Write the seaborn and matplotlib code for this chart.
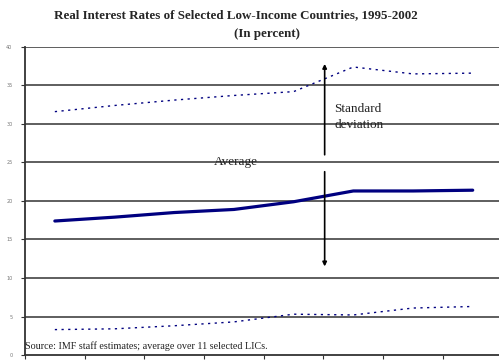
import matplotlib
matplotlib.use("Agg")
import matplotlib.pyplot as plt
import seaborn as sns
import numpy as np
import pandas as pd

years = ["1995", "1996", "1997", "1998", "1999", "2000", "2001", "2002"]
average = [17.4, 17.9, 18.5, 18.9, 19.9, 21.3, 21.3, 21.4]
upper_band = [31.6, 32.4, 33.1, 33.7, 34.2, 37.4, 36.5, 36.6]
lower_band = [3.3, 3.4, 3.8, 4.3, 5.3, 5.2, 6.1, 6.3]
y_ticks = [0, 5, 10, 15, 20, 25, 30, 35, 40]

sns.set_theme(style="white")
plt.rcParams["font.family"] = ["Liberation Serif", "DejaVu Serif"]

df = pd.DataFrame({"idx": np.arange(len(years)), "year": years,
                   "average": average, "upper": upper_band, "lower": lower_band})

fig = plt.figure(figsize=(4.99, 3.62), dpi=100)
ax = fig.add_axes([0.0501, 0.0193, 0.957, 0.851])

navy = "#000080"
sns.lineplot(data=df, x="idx", y="average", ax=ax, color=navy, lw=2.3)
sns.lineplot(data=df, x="idx", y="upper", ax=ax, color=navy, lw=1.0,
             linestyle=(0, (1.6, 3.2)))
sns.lineplot(data=df, x="idx", y="lower", ax=ax, color=navy, lw=1.0,
             linestyle=(0, (1.6, 3.2)))

for yv in y_ticks[1:]:
    ax.axhline(yv, color="#333333", lw=1.1, zorder=0)

ax.set_xlim(-0.5, len(years) - 0.5)
ax.set_ylim(0, 40)
ax.set_yticks(y_ticks)
ax.set_yticklabels([str(v) for v in y_ticks], fontsize=3.5, color="#777777",
                   family="DejaVu Sans")
ax.set_xticks(np.arange(len(years) + 1) - 0.5)
ax.set_xticklabels([])
ax.tick_params(axis="both", direction="out", length=3, width=0.8,
               color="#333333", pad=6, left=True, bottom=True)
ax.set_xlabel("")
ax.set_ylabel("")
for side in ["top", "right"]:
    ax.spines[side].set_visible(False)
for side in ["left", "bottom"]:
    ax.spines[side].set_color("#333333")
    ax.spines[side].set_linewidth(1.3)

# standard deviation arrows
arrow_x = 4.52
ax.annotate("", xy=(arrow_x, 37.8), xytext=(arrow_x, 26.0),
            arrowprops=dict(arrowstyle="-|>", color="black", lw=1.2,
                            mutation_scale=6, shrinkA=0, shrinkB=0))
ax.annotate("", xy=(arrow_x, 11.5), xytext=(arrow_x, 23.8),
            arrowprops=dict(arrowstyle="-|>", color="black", lw=1.2,
                            mutation_scale=6, shrinkA=0, shrinkB=0))

ax.text(4.68, 30.9, "Standard\ndeviation", fontsize=9.5, va="center",
        ha="left", color="#222222", linespacing=1.45)
ax.text(3.04, 24.7, "Average", fontsize=9.5, va="baseline", ha="center",
        color="#222222")
ax.text(-0.5, 1.2, "Source: IMF staff estimates; average over 11 selected LICs.",
        fontsize=7.3, va="center", ha="left", color="#222222")

fig.text(0.473, 0.958, "Real Interest Rates of Selected Low-Income Countries, 1995-2002",
         ha="center", va="center", fontsize=9.4, fontweight="bold")
fig.text(0.535, 0.905, "(In percent)", ha="center", va="center",
         fontsize=9.4, fontweight="bold")

fig.savefig("out.png", dpi=100)
